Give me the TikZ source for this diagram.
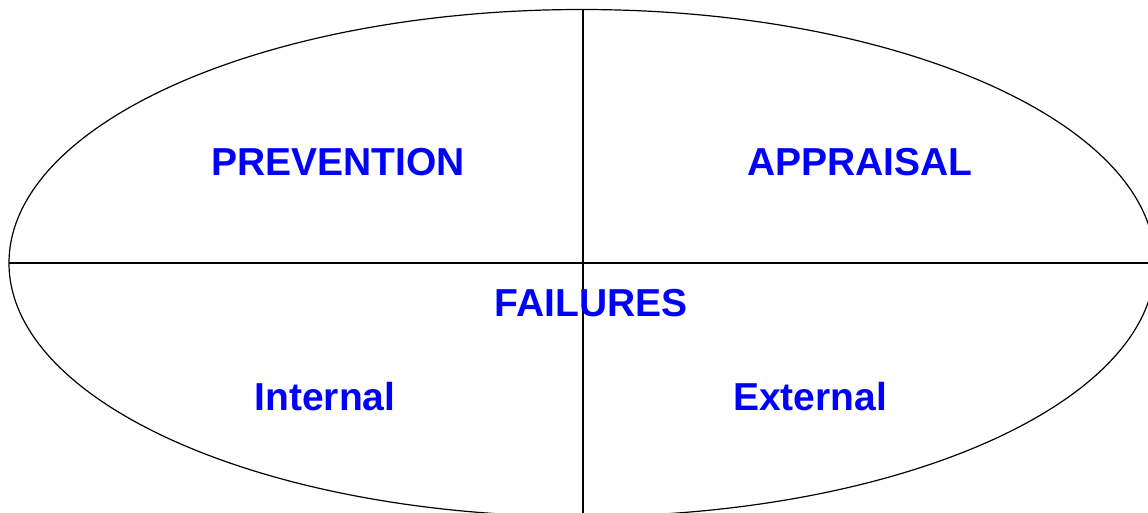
\documentclass[tikz,border=0pt]{standalone}
\usepackage{fontspec}
\setmainfont{Liberation Sans}
\begin{document}
\begin{tikzpicture}[x=1pt,y=-1pt,
  lbl/.style={text=blue, font=\fontsize{39}{46}\selectfont\bfseries, inner sep=0pt},
  edge/.style={line width=1.2pt, black}]
\useasboundingbox (0,0) rectangle (1148,512);
\begin{scope}
\clip (0,0) rectangle (1148,512);
\draw[edge] (582,263) ellipse [x radius=573, y radius=253.5];
\coordinate (top) at (583,9.5);
\coordinate (bot) at (583,520);
\coordinate (lft) at (9,263);
\coordinate (rgt) at (1160,263);
\draw[edge] (top) -- (bot);
\draw[edge] (lft) -- (rgt);
\end{scope}
\node[lbl] (prev) at (338,162) {PREVENTION};
\node[lbl] (appr) at (860,162) {APPRAISAL};
\node[lbl] (fail) at (591,303) {FAILURES};
\node[lbl] (intl) at (325,397) {Internal};
\node[lbl] (extl) at (810,397) {External};
\end{tikzpicture}
\end{document}
